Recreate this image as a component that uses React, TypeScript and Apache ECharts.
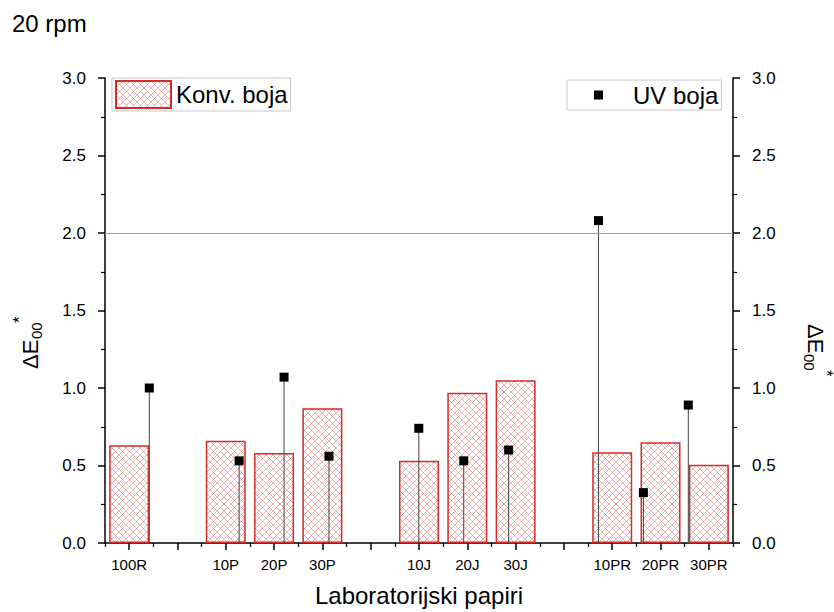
import React, { useEffect, useRef } from 'react';
import * as echarts from 'echarts';

const categories = ['100R', '', '10P', '20P', '30P', ' ', '10J', '20J', '30J', '  ', '10PR', '20PR', '30PR'];
const konvBoja = [0.63, null, 0.66, 0.58, 0.87, null, 0.53, 0.97, 1.05, null, 0.585, 0.65, 0.505];
const uvBoja = [1.0, null, 0.53, 1.07, 0.56, null, 0.74, 0.53, 0.6, null, 2.08, 0.325, 0.89];
const yMin = 0;
const yMax = 3;
const yStep = 0.5;
const refLineValue = 2.0;

const FONT = '"Liberation Sans", Arial, sans-serif';

function makeHatch(): HTMLCanvasElement {
  const s = 7;
  const c = document.createElement('canvas');
  c.width = s;
  c.height = s;
  const ctx = c.getContext('2d');
  if (ctx) {
    ctx.fillStyle = '#ffffff';
    ctx.fillRect(0, 0, s, s);
    ctx.strokeStyle = 'rgba(215,85,85,0.6)';
    ctx.lineWidth = 0.75;
    ctx.beginPath();
    ctx.moveTo(-1, -1);
    ctx.lineTo(s + 1, s + 1);
    ctx.moveTo(s + 1, -1);
    ctx.lineTo(-1, s + 1);
    ctx.stroke();
  }
  return c;
}

function yName(x: number, y: number, rot: number) {
  return {
    type: 'group',
    x,
    y,
    rotation: rot,
    children: [
      { type: 'text', x: -27, y: 0, style: { text: 'ΔE', fontSize: 22, fontFamily: FONT, fill: '#000', align: 'left', verticalAlign: 'middle' } },
      { type: 'text', x: 3, y: 6, style: { text: '00', fontSize: 15, fontFamily: FONT, fill: '#000', align: 'left', verticalAlign: 'middle' } },
      { type: 'text', x: 19, y: -11, style: { text: '*', fontSize: 17, fontFamily: FONT, fill: '#000', align: 'left', verticalAlign: 'middle' } },
    ],
  };
}

export default function App() {
  const ref = useRef<HTMLDivElement>(null);
  useEffect(() => {
    if (!ref.current) return;
    const chart = echarts.init(ref.current, null, { renderer: 'svg' });
    const hatch = makeHatch();
    const axisLineStyle = { color: '#000', width: 1.5 };
    const gridBox = { top: 78, bottom: 69, outerBoundsMode: 'none', containLabel: false };
    const yAxisCommon = {
      type: 'value',
      gridIndex: 0,
      min: yMin,
      max: yMax,
      interval: yStep,
      axisLine: { show: true, lineStyle: axisLineStyle },
      axisTick: { show: true, length: 7, lineStyle: axisLineStyle },
      minorTick: { show: true, splitNumber: 2, length: 4, lineStyle: { color: '#000', width: 1.2 } },
      splitLine: { show: false },
      axisLabel: {
        formatter: (v: number) => v.toFixed(1),
        fontSize: 17,
        color: '#000',
        fontFamily: FONT,
        margin: 19,
      },
    };
    const option: any = {
      animation: false,
      backgroundColor: '#fff',
      title: {
        text: '20 rpm',
        left: 12,
        top: 11,
        padding: 0,
        textStyle: { fontSize: 24, fontWeight: 'normal', color: '#000', fontFamily: FONT },
      },
      legend: [
        {
          data: [{ name: 'Konv. boja', icon: 'rect' }],
          left: 112,
          top: 78,
          itemWidth: 55,
          itemHeight: 27,
          padding: [2, 3, 2, 3],
          borderColor: '#c8c8c8',
          borderWidth: 1,
          selectedMode: false,
          textStyle: { fontSize: 24, color: '#000', fontFamily: FONT },
        },
        {
          data: [{ name: 'UV boja', icon: 'rect' }],
          left: 567,
          top: 80,
          itemWidth: 9,
          itemHeight: 9,
          padding: [3, 3, 3, 27],
          borderColor: '#c8c8c8',
          borderWidth: 1,
          selectedMode: false,
          itemStyle: { opacity: 1 },
          textStyle: { fontSize: 24, color: '#000', fontFamily: FONT, padding: [0, 0, 0, 25] },
        },
      ],
      grid: [
        { left: 105, right: 101, ...gridBox },
        { left: 149.3, right: 145.7, ...gridBox },
        { left: 105, right: 101, ...gridBox },
      ],
      xAxis: [
        {
          type: 'category',
          gridIndex: 0,
          data: categories,
          position: 'bottom',
          axisLine: { show: true, lineStyle: axisLineStyle },
          axisTick: { show: true, alignWithLabel: true, interval: 0, length: 7, lineStyle: axisLineStyle },
          axisLabel: { interval: 0, fontSize: 15, color: '#000', fontFamily: FONT, margin: 14 },
          splitLine: { show: false },
          name: 'Laboratorijski papiri',
          nameLocation: 'middle',
          nameGap: 40,
          nameTextStyle: { fontSize: 24, color: '#000', fontFamily: FONT },
        },
        { type: 'category', gridIndex: 1, data: categories, boundaryGap: false, show: false },
        {
          type: 'category',
          gridIndex: 2,
          data: categories,
          position: 'bottom',
          axisLine: { show: false },
          axisTick: { show: true, interval: 0, length: 4, lineStyle: { color: '#000', width: 1.2 } },
          axisLabel: { show: false },
          splitLine: { show: false },
        },
      ],
      yAxis: [
        { ...yAxisCommon, position: 'left' },
        { ...yAxisCommon, position: 'right' },
        { type: 'value', gridIndex: 1, min: yMin, max: yMax, show: false },
        { type: 'value', gridIndex: 2, min: yMin, max: yMax, show: false },
      ],
      graphic: [yName(30, 342, Math.PI / 2), yName(815, 351, -Math.PI / 2)],
      series: [
        {
          name: 'Konv. boja',
          type: 'bar',
          xAxisIndex: 0,
          yAxisIndex: 0,
          data: konvBoja,
          barWidth: 40,
          itemStyle: {
            color: { image: hatch, repeat: 'repeat' },
            borderColor: '#d42b2b',
            borderWidth: 1.5,
          },
          markLine: {
            silent: true,
            symbol: 'none',
            label: { show: false },
            lineStyle: { color: '#a0a0a0', width: 1, type: 'solid' },
            data: [{ yAxis: refLineValue }],
          },
        },
        {
          type: 'bar',
          xAxisIndex: 1,
          yAxisIndex: 2,
          data: uvBoja,
          barWidth: 1,
          clip: false,
          silent: true,
          itemStyle: { color: '#444' },
        },
        {
          name: 'UV boja',
          type: 'scatter',
          xAxisIndex: 1,
          yAxisIndex: 2,
          data: uvBoja,
          symbol: 'rect',
          symbolSize: 9,
          clip: false,
          itemStyle: { color: '#000', opacity: 1 },
        },
      ],
    };
    chart.setOption(option);
    return () => chart.dispose();
  }, []);
  return <div ref={ref} style={{ position: 'fixed', left: 0, top: 0, width: 834, height: 612 }} />;
}
